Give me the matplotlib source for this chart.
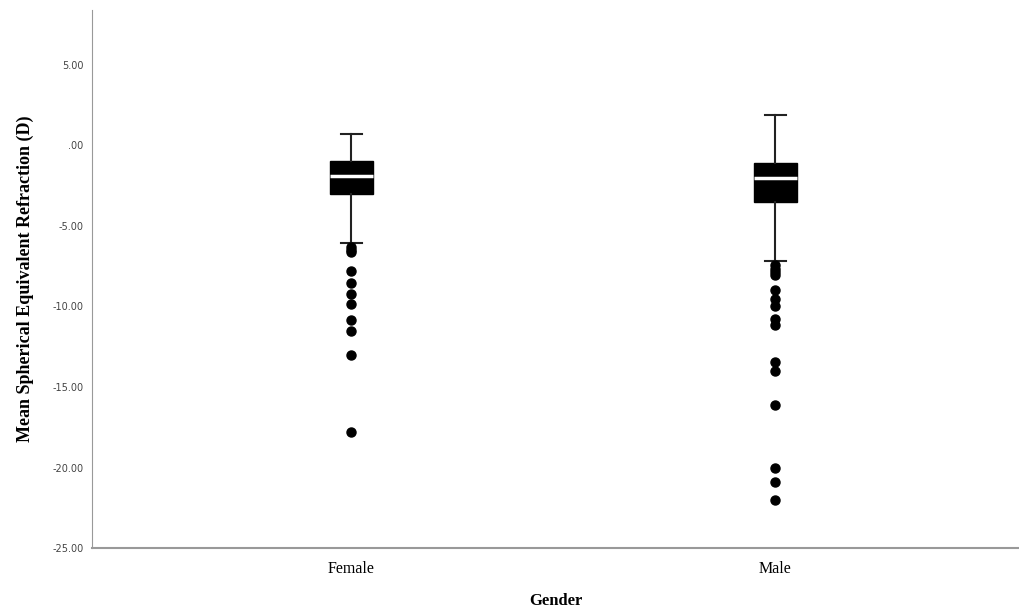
import matplotlib
matplotlib.use("Agg")
import matplotlib.pyplot as plt

# Box statistics (dioptres)
groups = ["Female", "Male"]
whisk_hi = [0.73, 1.86]
q3 = [-0.98, -1.07]
median = [-1.93, -2.0]
q1 = [-3.0, -3.52]
whisk_lo = [-6.04, -7.2]
fliers_female = [-6.3, -6.5, -6.65, -7.83, -8.53, -9.21, -9.88, -10.87,
                 -11.53, -13.04, -17.81]
fliers_male = [-7.45, -7.65, -7.85, -8.05, -9.0, -9.52, -10.0, -10.76,
               -11.18, -13.46, -14.02, -16.09, -20.02, -20.91, -22.0]
fliers = [fliers_female, fliers_male]

yticks = [5, 0, -5, -10, -15, -20, -25]
ytick_labels = ["5.00", ".00", "-5.00", "-10.00", "-15.00", "-20.00", "-25.00"]

SERIF = "Liberation Serif"

stats = []
for i, g in enumerate(groups):
    stats.append(dict(label=g, med=median[i], q1=q1[i], q3=q3[i],
                      whislo=whisk_lo[i], whishi=whisk_hi[i], fliers=fliers[i]))

fig = plt.figure(figsize=(10.19, 6.11), dpi=100)
ax = fig.add_axes([0.0903, 0.103, 0.9097, 0.8806])

ax.bxp(stats, positions=[1, 2], widths=0.101, patch_artist=True,
       capwidths=0.05,
       boxprops=dict(facecolor="black", edgecolor="black", linewidth=1),
       medianprops=dict(color="white", linewidth=2.5),
       whiskerprops=dict(color="#222222", linewidth=1.5),
       capprops=dict(color="#222222", linewidth=1.5),
       flierprops=dict(marker="o", markerfacecolor="black",
                       markeredgecolor="black", markersize=6.5))

ax.set_xlim(0.389, 2.575)
ax.set_ylim(-25, 8.4)
ax.set_yticks(yticks)
ax.set_yticklabels(ytick_labels, fontfamily="DejaVu Sans", fontsize=7,
                   color="#444444")
ax.set_xticks([1, 2])
ax.set_xticklabels(groups, fontfamily=SERIF, fontsize=11.5)
ax.tick_params(axis="y", length=0, pad=6)
ax.tick_params(axis="x", length=0, pad=9)

for side in ["top", "right"]:
    ax.spines[side].set_visible(False)
ax.spines["left"].set_color("#999999")
ax.spines["bottom"].set_color("#999999")
ax.spines["bottom"].set_linewidth(1.5)

ax.set_ylabel("Mean Spherical Equivalent Refraction (D)", fontfamily=SERIF,
              fontsize=13, fontweight="bold", labelpad=13)
ax.set_xlabel("Gender", fontfamily=SERIF, fontsize=12, fontweight="bold",
              labelpad=12)

fig.savefig("out.png", dpi=100)
